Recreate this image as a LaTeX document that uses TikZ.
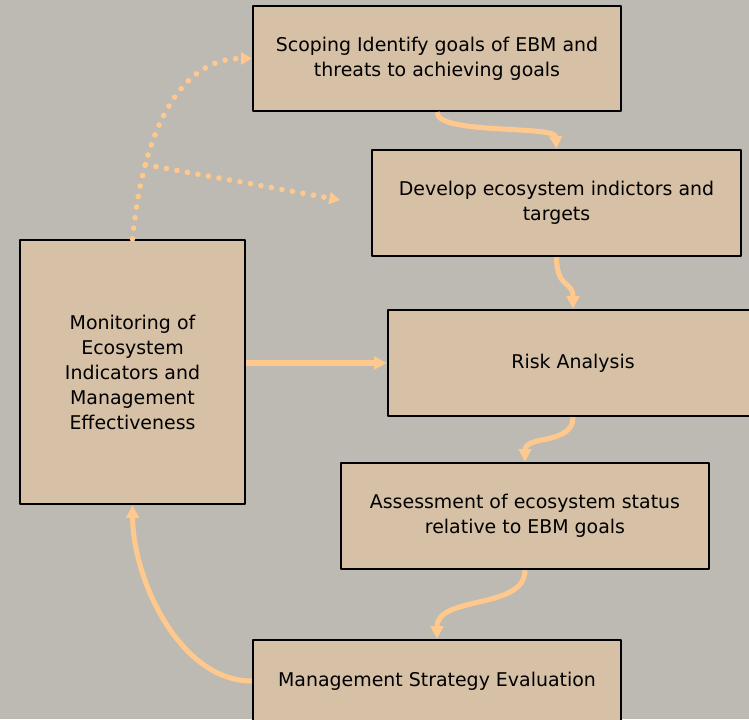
\documentclass[tikz,border=0pt]{standalone}
\usepackage{fontspec}
\setmainfont{DejaVu Sans}
\usetikzlibrary{arrows.meta}
\definecolor{bggray}{RGB}{189,186,179}
\definecolor{boxtan}{RGB}{214,192,166}
\definecolor{flow}{RGB}{255,200,140}
\begin{document}
\begin{tikzpicture}[x=0.75pt, y=-0.75pt, font=\fontsize{14.2}{18.75}\selectfont, line join=round,
	box/.style={draw, line width=1.8pt, fill=boxtan, align=center, inner sep=0pt},
	flowline/.style={draw=flow, line width=3.8pt, -{Triangle[length=9.5pt,width=9.5pt]}},
	dotline/.style={draw=flow, line width=4.2pt, line cap=round, dash pattern=on 0pt off 8pt, -{Triangle[length=8pt,width=9pt]}}]
	\fill[bggray] (0,0) rectangle (749,719);
	\clip (0,0) rectangle (749,719);
	% boxes
	\node[box, minimum width=276pt, minimum height=78.75pt] (scope) at (437,58.5) {Scoping Identify goals of EBM and\\threats to achieving goals};
	\node[box, minimum width=276.75pt, minimum height=79.5pt] (develop) at (556.5,203) {Develop ecosystem indictors and\\targets};
	\node[box, minimum width=277.5pt, minimum height=79.5pt] (risk) at (573,363) {Risk Analysis};
	\node[box, minimum width=276pt, minimum height=79.5pt] (assess) at (525,516) {Assessment of ecosystem status\\relative to EBM goals};
	\node[box, minimum width=276pt, minimum height=61.5pt] (mse) at (437,681) {Management Strategy Evaluation};
	\node[box, minimum width=168.75pt, minimum height=198pt] (monitor) at (132.5,372) {Monitoring of\\Ecosystem\\Indicators and\\Management\\Effectiveness};
	\coordinate (tip) at (340,200);
	% arrows
	\draw[flowline] (scope.south) .. controls (437,135) and (555,125) .. (develop.north);
	\draw[flowline] (develop.south) .. controls (557,290) and (573,280) .. (risk.north);
	\draw[flowline] (risk.south) .. controls (573,445) and (525,435) .. (assess.north);
	\draw[flowline] (assess.south) .. controls (525,610) and (437,595) .. (mse.north);
	\draw[flowline] (mse.west) .. controls (180,681) and (133,580) .. (monitor.south);
	\draw[flowline] (monitor.east |- risk.west) -- (risk.west);
	\draw[dotline] (monitor.north) .. controls (143,130) and (180,58) .. (scope.west) coordinate[pos=0.25] (fork);
	\draw[dotline] (fork) -- (tip);
\end{tikzpicture}
\end{document}
